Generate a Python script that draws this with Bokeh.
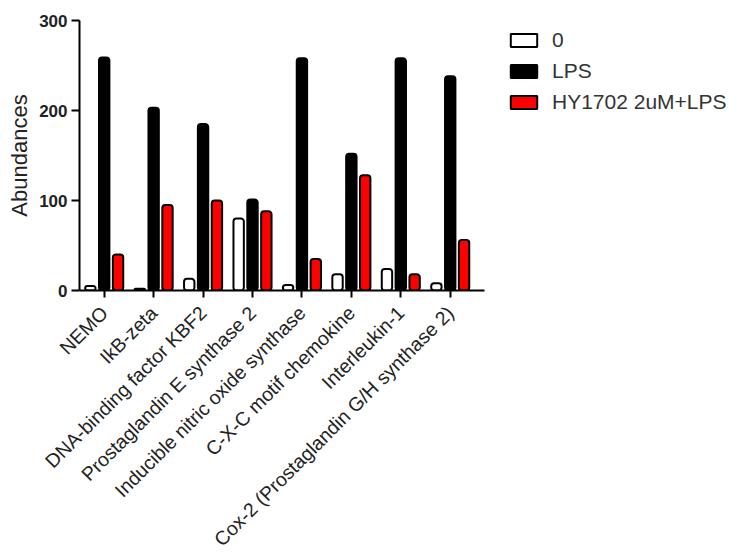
import math
from bokeh.plotting import figure
from bokeh.models import ColumnDataSource, FixedTicker, Range1d
from bokeh.transform import dodge
from bokeh.embed import file_html
from bokeh.resources import INLINE

categories = ["NEMO", "IkB-zeta", "DNA-binding factor KBF2", "Prostaglandin E synthase 2",
              "Inducible nitric oxide synthase", "C-X-C motif chemokine", "Interleukin-1",
              "Cox-2 (Prostaglandin G/H synthase 2)"]
series_names = ["0", "LPS", "HY1702 2uM+LPS"]
vals_0 = [5, 2, 13, 80, 6, 18, 24, 8]
vals_lps = [259, 203, 185, 101, 258, 152, 258, 238]
vals_hy = [40, 95, 100, 88, 35, 128, 18, 56]
y_ticks = [0, 100, 200, 300]

xs = list(range(len(categories)))
src = ColumnDataSource(dict(x=xs, v0=vals_0, vl=vals_lps, vh=vals_hy))

# frame extends to the right edge so the legend sits inside it; the x axis is bounded
x_start, x_axis_end = -0.5, 7.69
frame_w = 649
unit_px = 49.43
p = figure(frame_width=frame_w, frame_height=270, output_backend="svg", toolbar_location=None,
           x_range=Range1d(x_start, x_start + frame_w / unit_px), y_range=Range1d(0, 300),
           min_border_left=79, min_border_right=0, min_border_top=20, min_border_bottom=5)

common = dict(source=src, width=0.21, line_color="black", line_width=2, border_radius=3)
p.vbar(x=dodge("x", -0.28, range=p.x_range), top="v0", fill_color="white", legend_label=series_names[0], **common)
p.vbar(x=dodge("x", 0.0, range=p.x_range), top="vl", fill_color="black", legend_label=series_names[1], **common)
p.vbar(x=dodge("x", 0.28, range=p.x_range), top="vh", fill_color="#ff0000", legend_label=series_names[2], **common)

p.xgrid.grid_line_color = None
p.ygrid.grid_line_color = None
p.outline_line_color = None
p.background_fill_color = "white"

xa = p.xaxis[0]
xa.ticker = FixedTicker(ticks=xs)
xa.bounds = (x_start, x_axis_end)
xa.major_label_overrides = {i: c for i, c in enumerate(categories)}
xa.major_label_orientation = math.pi / 4
xa.major_label_text_font = "Liberation Sans"
xa.major_label_text_font_size = "19.5px"
xa.major_label_text_color = "#222222"
xa.axis_line_width = 2
xa.major_tick_line_width = 2
xa.major_tick_out = 7
xa.major_tick_in = 0
xa.minor_tick_line_color = None
xa.major_label_standoff = 12

ya = p.yaxis[0]
ya.ticker = FixedTicker(ticks=y_ticks)
ya.axis_label = "Abundances"
ya.axis_label_text_font = "Liberation Sans"
ya.axis_label_text_font_style = "normal"
ya.axis_label_text_font_size = "22px"
ya.axis_label_text_color = "#222222"
ya.axis_label_standoff = 4
ya.major_label_text_font = "Liberation Sans"
ya.major_label_text_font_style = "bold"
ya.major_label_text_font_size = "17px"
ya.major_label_text_color = "#222222"
ya.axis_line_width = 2
ya.major_tick_line_width = 2
ya.major_tick_out = 8
ya.major_tick_in = 0
ya.minor_tick_line_color = None
ya.major_label_standoff = 4

lg = p.legend[0]
lg.location = (428, 176)
lg.padding = 0
lg.margin = 0
lg.border_line_color = None
lg.background_fill_alpha = 0
lg.glyph_width = 33
lg.glyph_height = 16
lg.label_height = 16
lg.spacing = 7
lg.label_standoff = 12
lg.label_text_font = "Liberation Sans"
lg.label_text_font_size = "21px"
lg.label_text_color = "#333333"

open("out.html", "w").write(file_html(p, INLINE))
